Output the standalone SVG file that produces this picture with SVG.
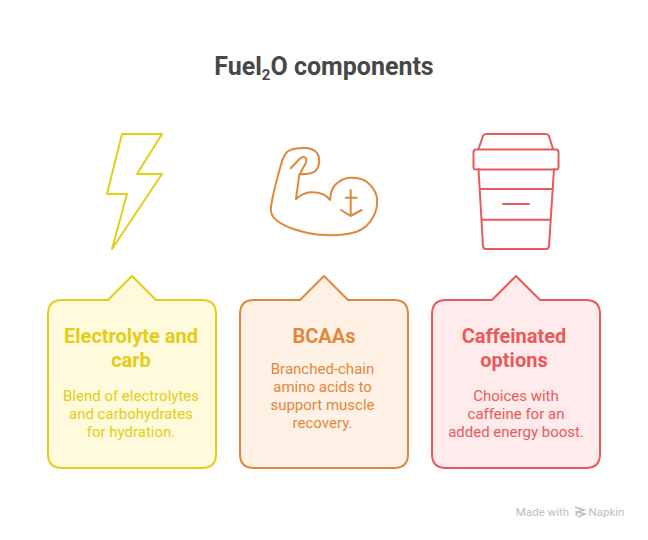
<svg xmlns="http://www.w3.org/2000/svg" width="648" height="540" viewBox="0 0 648 540">
<style>
text{font-family:Roboto,"Liberation Sans",sans-serif;text-anchor:middle}
.title{font-size:25px;font-weight:700;fill:#484848}
.h{font-size:20px;font-weight:700}
.b{font-size:15px;font-weight:400}
.card{stroke-width:2;stroke-linejoin:round}
.icon{fill:none;stroke-width:2;stroke-linejoin:round;stroke-linecap:round}
.y{stroke:#E2CE16}.yt{fill:#E2CE16}.yf{fill:#FFFADB}
.o{stroke:#E0883A}.ot{fill:#E0883A}.of{fill:#FFF1E5}
.r{stroke:#E85A5A}.rt{fill:#E85A5A}.rf{fill:#FFEBEB}
</style>
<rect width="648" height="540" fill="#fff"/>
<text id="title" class="title" x="324" y="75">Fuel<tspan font-size="15" dy="5">2</tspan><tspan dy="-5">O components</tspan></text>
<g id="node-electrolyte">
<path class="icon y" d="M122 134H162L137 174H162L112 249L127 194H107Z"/>
<path class="card y yf" d="M62 300H108L132 276L156 300H202Q216 300 216 314V454Q216 468 202 468H62Q48 468 48 454V314Q48 300 62 300Z"/>
<text class="h yt" x="131" y="343">Electrolyte and</text>
<text class="h yt" x="131" y="367">carb</text>
<text class="b yt" x="131" y="401">Blend of electrolytes</text>
<text class="b yt" x="131" y="419">and carbohydrates</text>
<text class="b yt" x="131" y="437">for hydration.</text>
</g>
<g id="node-bcaas">
<path class="icon o" d="M290.700 168.300L299 159.500C302 156 306 156.500 306.500 160C306.500 164 301 170 300 174.300C306 174.300 312 174 315.500 171C320 166 320.500 158 317 153C314 149 310 148 304 148C298 148 291 148.500 287 152C284 155 283 158 281.500 163C278 175 272.500 196 271 206.700C270 213 272 217 276.700 220.500C283 225.500 290 228 296.700 230C306 233 316 235 326.700 235C337 235.500 348 234.500 356.700 231.700C364 229 370 223 373.300 216.700C376.500 211 377.500 204 377 198.300C376 191 372 186 366.700 181.700C362 178.500 356 177.500 350 177.700C344 178 339 181 335 185C332 188.500 330.500 194 330 200C328 197 326 195.500 323.300 194.300C319 192.500 314 192 310 192.300C304 193 300 195.500 296 199L299.300 174.300"/>
<path class="icon o" d="M350.700 190V216M345.700 197.700H356.700M341 210L350.700 216L361.700 210"/>
<path class="card o of" d="M254 300H300L324 276L348 300H394Q408 300 408 314V454Q408 468 394 468H254Q240 468 240 454V314Q240 300 254 300Z"/>
<text class="h ot" x="324" y="343">BCAAs</text>
<text class="b ot" x="322.500" y="374">Branched-chain</text>
<text class="b ot" x="322.500" y="392">amino acids to</text>
<text class="b ot" x="322.500" y="410">support muscle</text>
<text class="b ot" x="322.500" y="428">recovery.</text>
</g>
<g id="node-caffeinated">
<path class="icon r" d="M478.500 149L483 136Q484 134 486 134H546Q548 134 549 136L553 149M478.500 169L483 246Q483 249 486 249H546Q549 249 549 246L554 169M480 189H552.500M482 219.700H550.500M503 204H529"/>
<rect class="icon r" x="473.500" y="149.500" width="85" height="20" rx="2.500"/>
<path class="card r rf" d="M446 300H492L516 276L540 300H586Q600 300 600 314V454Q600 468 586 468H446Q432 468 432 454V314Q432 300 446 300Z"/>
<text class="h rt" x="514" y="343">Caffeinated</text>
<text class="h rt" x="514" y="367">options</text>
<text class="b rt" x="516" y="401">Choices with</text>
<text class="b rt" x="516" y="419">caffeine for an</text>
<text class="b rt" x="516" y="437">added energy boost.</text>
</g>
<g id="watermark">
<text x="542.500" y="516" font-size="11.500" fill="#bdbdbd">Made with</text>
<path d="M575 507L584 510L577 512L585 514L578 517M577 512L576 516" fill="none" stroke="#bdbdbd" stroke-width="1.600"/>
<text x="606.500" y="516" font-size="11.500" fill="#bdbdbd">Napkin</text>
</g>
<g id="connectors"></g>
</svg>
